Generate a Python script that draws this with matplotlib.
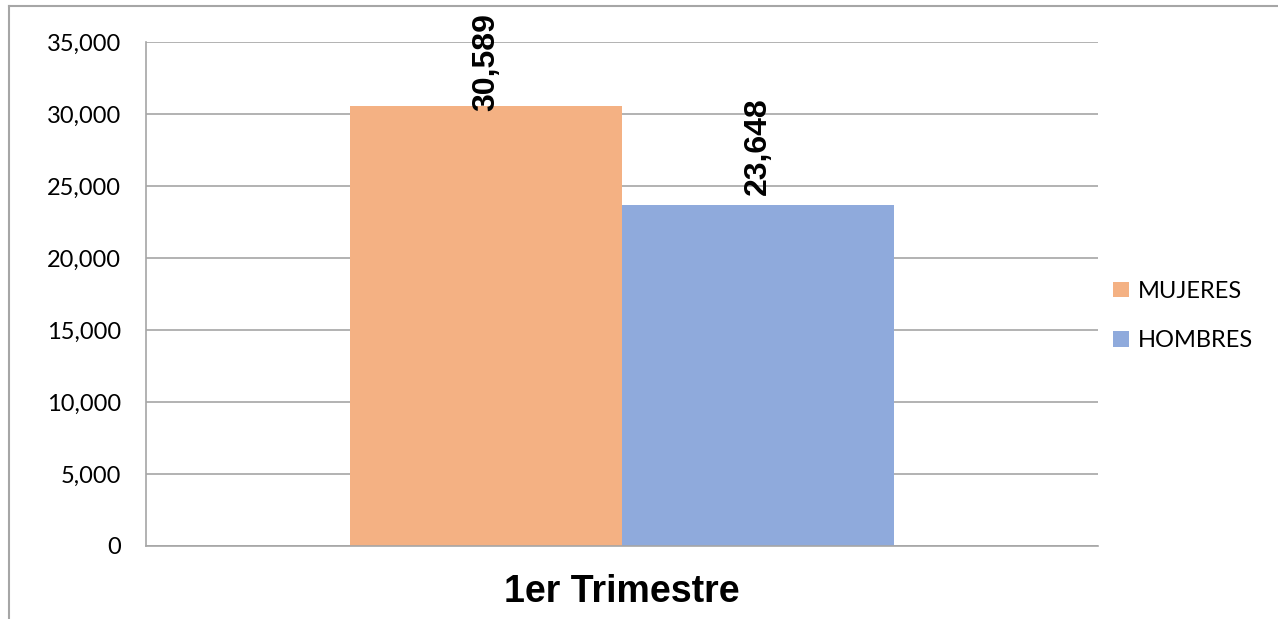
import matplotlib
matplotlib.use("Agg")
import matplotlib.pyplot as plt
from matplotlib.patches import Patch
from matplotlib.lines import Line2D
from matplotlib.ticker import FuncFormatter

categories = ["1er Trimestre"]
series_names = ["MUJERES", "HOMBRES"]
mujeres = [30589]
hombres = [23648]
colors = ["#F4B183", "#8FAADC"]
yticks = [0, 5000, 10000, 15000, 20000, 25000, 30000, 35000]

W, H = 1278, 619
fig = plt.figure(figsize=(W / 100, H / 100), dpi=100)
ax = fig.add_axes([146 / W, 1 - 546 / H, (1098 - 146) / W, (546 - 42) / H])

width = 0.286
offs = [-width / 2, width / 2]
label_off = [-5, 10]  # pixel offsets of value labels
for s, (vals, name, col) in enumerate(zip([mujeres, hombres], series_names, colors)):
    xs = [i + offs[s] for i in range(len(categories))]
    ax.bar(xs, vals, width=width, color=col, label=name, zorder=2)
    for x, v in zip(xs, vals):
        ax.annotate(f"{v:,}", (x, v), xytext=(0, label_off[s] * 0.72), textcoords="offset points",
                    rotation=90, ha="center", va="bottom", fontsize=23, fontweight="bold",
                    family="Liberation Sans", color="black", zorder=3)

ax.set_xlim(-0.5, len(categories) - 0.5)
ax.set_ylim(0, 35000)
ax.set_yticks(yticks)
ax.yaxis.set_major_formatter(FuncFormatter(lambda v, p: f"{int(v):,}"))
ax.set_xticks(range(len(categories)))
ax.set_xticklabels(categories, fontsize=27, fontweight="bold", family="Liberation Sans")
ax.tick_params(axis="x", length=0, pad=20)
ax.tick_params(axis="y", length=0, pad=18, labelsize=17)
for lab in ax.get_yticklabels():
    lab.set_family("Lato")
ax.grid(axis="y", color="#A6A6A6", linewidth=1.2, zorder=0)
ax.set_axisbelow(True)
for sp in ["top", "right"]:
    ax.spines[sp].set_visible(False)
for sp in ["left", "bottom"]:
    ax.spines[sp].set_color("#A6A6A6")
    ax.spines[sp].set_linewidth(1.2)

handles = [Patch(facecolor=c, edgecolor="none") for c in colors]
ax.legend(handles, series_names, loc="center left", bbox_to_anchor=(1092 / W, 1 - 316 / H),
          bbox_transform=fig.transFigure, frameon=False, handlelength=0.65, handleheight=0.65,
          handletextpad=0.4, labelspacing=1.2, prop={"family": "Lato", "size": 17})

# outer chart border
fig.add_artist(Line2D([8.5 / W, 8.5 / W], [0, 1 - 5.5 / H], transform=fig.transFigure,
                      color="#A6A6A6", linewidth=1.5))
fig.add_artist(Line2D([8.5 / W, 1], [1 - 5.5 / H, 1 - 5.5 / H], transform=fig.transFigure,
                      color="#A6A6A6", linewidth=1.5))

fig.savefig("out.png", dpi=100, facecolor="white")
